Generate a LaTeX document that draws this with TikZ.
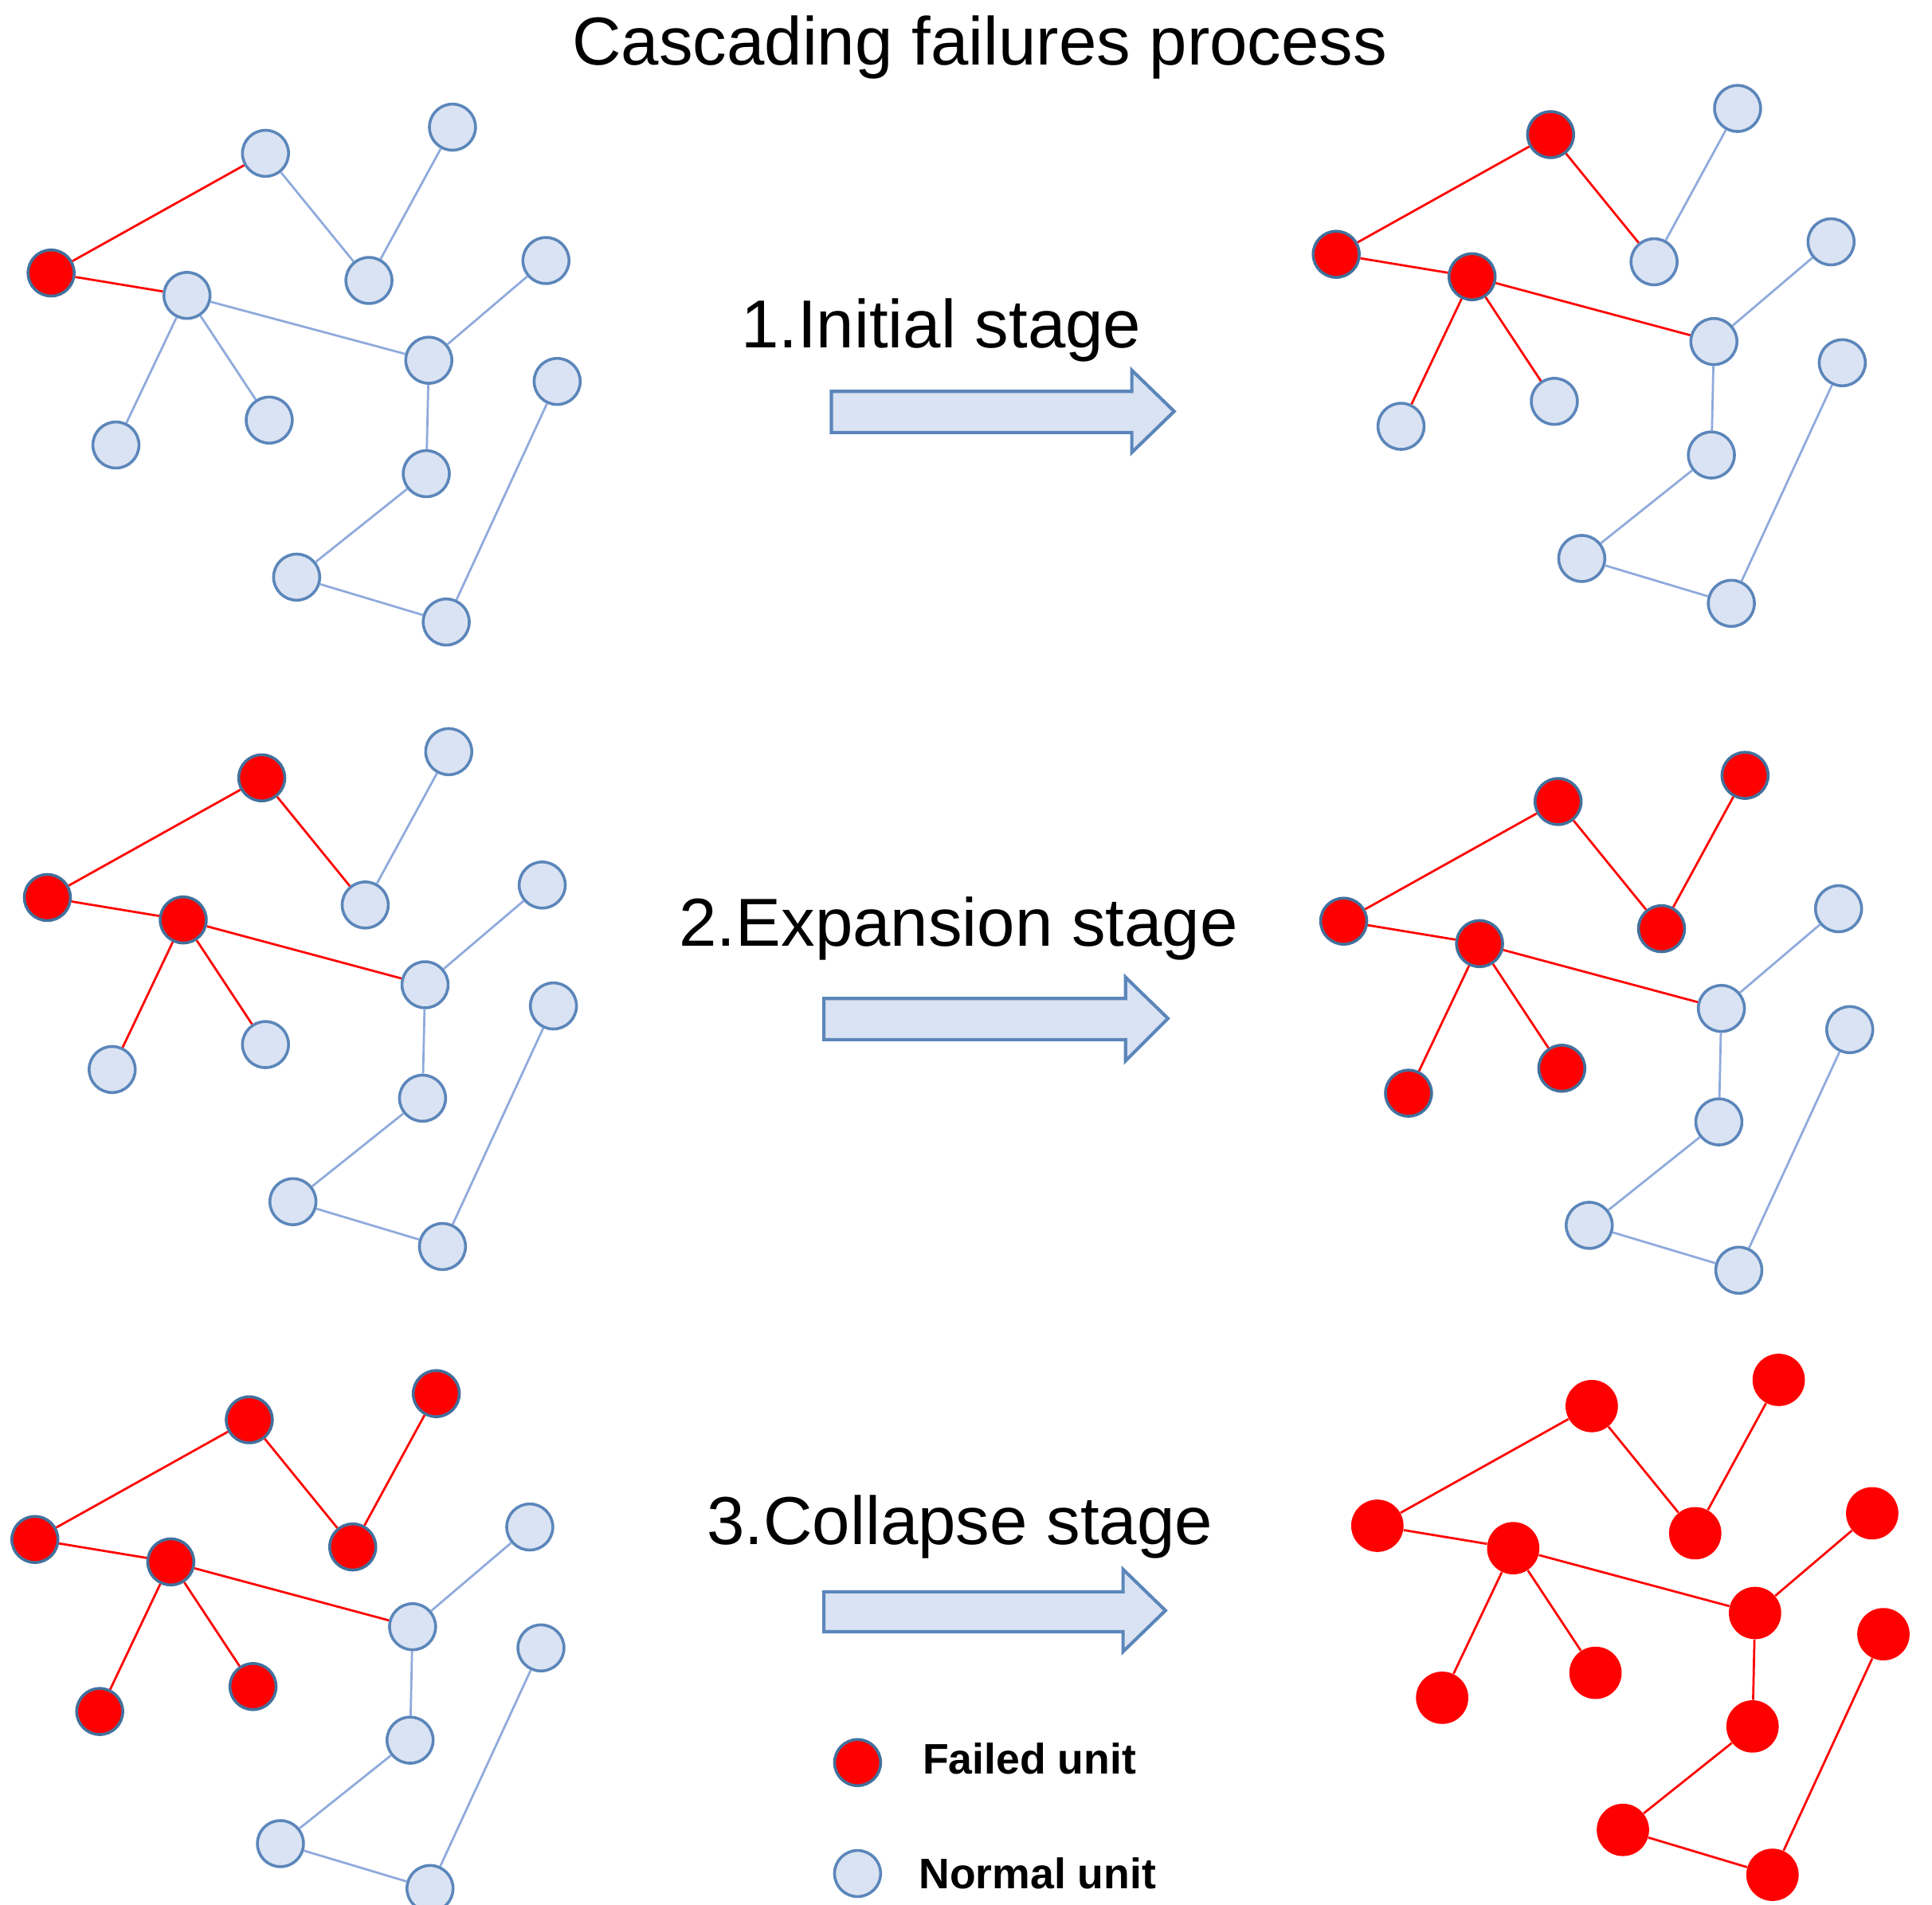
\documentclass[tikz,border=0pt]{standalone}
\usepackage{fontspec}
\setmainfont{Liberation Sans}
\definecolor{nfill}{HTML}{DAE3F3}
\definecolor{nline}{HTML}{5B86BA}
\definecolor{eblue}{HTML}{8FAADC}
\definecolor{fred}{HTML}{FF0000}
\definecolor{fline}{HTML}{41719C}
\tikzset{
  normal/.style={circle,draw=nline,fill=nfill,line width=1.3pt,minimum size=0.74cm,inner sep=0pt},
  fail/.style={circle,draw=fline,fill=fred,line width=1.3pt,minimum size=0.74cm,inner sep=0pt},
  dead/.style={circle,fill=fred,minimum size=0.84cm,inner sep=0pt},
  be/.style={draw=eblue,line width=1pt},
  re/.style={draw=fred,line width=1pt},
  bigarrow/.style={draw=nline,fill=nfill,line width=1.5pt},
  stage/.style={font=\fontsize{31}{36}\selectfont},
  legend/.style={font=\bfseries\fontsize{19.5}{23}\selectfont,anchor=west}
}
\newcommand\placenet[3]{%
  \begin{scope}[shift={(#2,#3)}]
  \foreach \n/\x/\y in {A/41/219,B/213/123,C/363/102,D/296/225,E/150/237,F/438/209,G/344/289,H/93/357,I/216/337,J/447/306,K/342/380,L/238/463,M/358/499}
    {\node[st\n] (#1\n) at (\x,\y) {};}
  \foreach \a/\b in {A/B,A/E,B/D,D/C,E/G,E/H,E/I,G/F,G/K,K/L,L/M,M/J}
    {\draw[e\a\b] (#1\a) -- (#1\b);}
  \end{scope}}
\newcommand\allnormal{\tikzset{stA/.style=normal,stB/.style=normal,stC/.style=normal,stD/.style=normal,stE/.style=normal,stF/.style=normal,stG/.style=normal,stH/.style=normal,stI/.style=normal,stJ/.style=normal,stK/.style=normal,stL/.style=normal,stM/.style=normal,
eAB/.style=be,eAE/.style=be,eBD/.style=be,eDC/.style=be,eEG/.style=be,eEH/.style=be,eEI/.style=be,eGF/.style=be,eGK/.style=be,eKL/.style=be,eLM/.style=be,eMJ/.style=be}}
\begin{document}
\begin{tikzpicture}[x=0.02cm,y=-0.02cm]
\useasboundingbox (0,0) rectangle (1550,1528);
\node[font=\fontsize{31}{36}\selectfont] (title) at (786,38) {Cascading failures process};
% TL
\begin{scope}\allnormal
\tikzset{stA/.style=fail,eAB/.style=re,eAE/.style=re}
\placenet{a}{0}{0}\end{scope}
% TR
\begin{scope}\allnormal
\tikzset{stA/.style=fail,stB/.style=fail,stE/.style=fail,eAB/.style=re,eAE/.style=re,eBD/.style=re,eEG/.style=re,eEH/.style=re,eEI/.style=re}
\placenet{b}{1031}{-15}\end{scope}
% ML
\begin{scope}\allnormal
\tikzset{stA/.style=fail,stB/.style=fail,stE/.style=fail,eAB/.style=re,eAE/.style=re,eBD/.style=re,eEG/.style=re,eEH/.style=re,eEI/.style=re}
\placenet{c}{-3}{501}\end{scope}
% MR
\begin{scope}\allnormal
\tikzset{stA/.style=fail,stB/.style=fail,stC/.style=fail,stD/.style=fail,stE/.style=fail,stH/.style=fail,stI/.style=fail,eAB/.style=re,eAE/.style=re,eBD/.style=re,eDC/.style=re,eEG/.style=re,eEH/.style=re,eEI/.style=re}
\placenet{d}{1037}{520}\end{scope}
% BL
\begin{scope}\allnormal
\tikzset{stA/.style=fail,stB/.style=fail,stC/.style=fail,stD/.style=fail,stE/.style=fail,stH/.style=fail,stI/.style=fail,eAB/.style=re,eAE/.style=re,eBD/.style=re,eDC/.style=re,eEG/.style=re,eEH/.style=re,eEI/.style=re}
\placenet{e}{-13}{1016}\end{scope}
% BR
\begin{scope}
\tikzset{stA/.style=dead,stB/.style=dead,stC/.style=dead,stD/.style=dead,stE/.style=dead,stF/.style=dead,stG/.style=dead,stH/.style=dead,stI/.style=dead,stJ/.style=dead,stK/.style=dead,stL/.style=dead,stM/.style=dead,
eAB/.style=re,eAE/.style=re,eBD/.style=re,eDC/.style=re,eEG/.style=re,eEH/.style=re,eEI/.style=re,eGF/.style=re,eGK/.style=re,eKL/.style=re,eLM/.style=re,eMJ/.style=re}
\placenet{f}{1064}{1005}\end{scope}
% stages
\node[stage] (s1) at (755,265) {1.Initial stage};
\node[stage] (s2) at (769,745) {2.Expansion stage};
\node[stage] (s3) at (770,1225) {3.Collapse stage};
\draw[bigarrow] (667,314) -- (908,314) -- (908,297) -- (942,330) -- (908,363) -- (908,347) -- (667,347) -- cycle;
\draw[bigarrow] (661,801) -- (903,801) -- (903,784) -- (937,817) -- (903,851) -- (903,834) -- (661,834) -- cycle;
\draw[bigarrow] (661,1277) -- (901,1277) -- (901,1259) -- (935,1292) -- (901,1325) -- (901,1309) -- (661,1309) -- cycle;
% legend
\node[fail] (lf) at (688,1414) {};
\node[legend] (lft) at (734,1411) {Failed unit};
\node[normal] (ln) at (688,1503) {};
\node[legend] (lnt) at (731,1503) {Normal unit};
\end{tikzpicture}
\end{document}
